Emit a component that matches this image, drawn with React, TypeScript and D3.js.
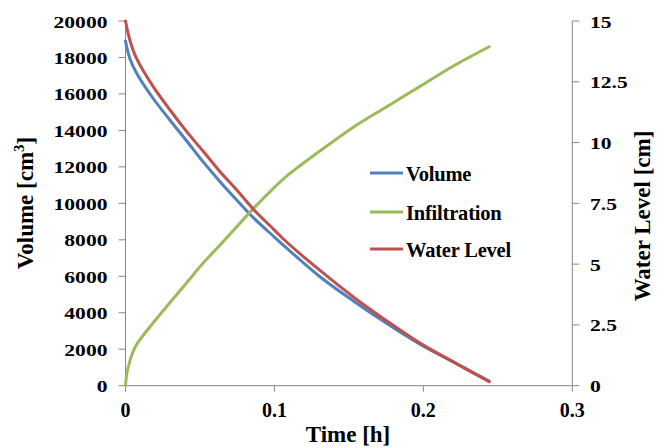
import React from "react";
import * as d3 from "d3";

// Time [h] sample points
const timeH = [0, 0.0029, 0.0074, 0.0186, 0.0299, 0.0411, 0.0523, 0.0635, 0.0747, 0.086, 0.1, 0.108, 0.131, 0.153, 0.176, 0.198, 0.2207, 0.2442];
// Remaining volume in the column [cm3]
const volume = [18900, 17950, 17150, 15750, 14560, 13420, 12260, 11190, 10180, 9200, 8150, 7560, 5950, 4650, 3380, 2260, 1270, 256];
// Water level [cm] (secondary axis)
const waterLevel = [15.0, 14.22, 13.46, 12.3, 11.34, 10.45, 9.63, 8.8, 8.05, 7.25, 6.4, 5.92, 4.72, 3.65, 2.64, 1.74, 0.96, 0.16];
// Cumulative infiltration [cm3]
const infTime = [0, 0.0008, 0.0025, 0.0045, 0.0074, 0.0186, 0.0299, 0.0411, 0.0523, 0.0635, 0.0747, 0.086, 0.1, 0.108, 0.131, 0.153, 0.176, 0.198, 0.2207, 0.2442];
const infiltration = [0, 620, 1230, 1750, 2250, 3450, 4560, 5650, 6740, 7715, 8720, 9725, 10880, 11480, 12900, 14180, 15330, 16430, 17560, 18590];

const leftTicks = [0, 2000, 4000, 6000, 8000, 10000, 12000, 14000, 16000, 18000, 20000];
const rightTicks = [0, 2.5, 5, 7.5, 10, 12.5, 15];
const timeTicks = [0, 0.1, 0.2, 0.3];

const seriesNames = ["Volume", "Infiltration", "Water Level"];
const seriesColors = ["#4F81BD", "#9BBB59", "#C0504D"];

const W = 662;
const H = 448;
const FONT = "'Liberation Serif', 'Times New Roman', serif";
const AXIS = "#868686";

export default function App() {
  const x = d3.scaleLinear().domain([0, 0.3]).range([125.5, 572.3]);
  const yL = d3.scaleLinear().domain([0, 20000]).range([385.7, 21]);
  const yR = d3.scaleLinear().domain([0, 15]).range([385.7, 21]);

  const mk = (ts: number[], vs: number[], ys: d3.ScaleLinear<number, number>) =>
    d3
      .line<number>()
      .x((_, i) => x(ts[i]))
      .y((v) => ys(v))
      .curve(d3.curveCatmullRom.alpha(0.5))(vs) as string;

  const paths = [
    mk(timeH, volume, yL),
    mk(infTime, infiltration, yL),
    mk(timeH, waterLevel, yR),
  ];

  const x0 = x(0);
  const x1 = x(0.3);
  const yTop = yL(20000);
  const yBot = yL(0);

  const legendY = [173, 212, 249];

  return (
    <svg
      width={W}
      height={H}
      style={{ position: "absolute", left: 0, top: 0, background: "#fff" }}
      fontFamily={FONT}
      fontWeight="bold"
    >
      <rect width={W} height={H} fill="#fff" />

      {/* left axis */}
      <line x1={x0} x2={x0} y1={yTop} y2={yBot} stroke={AXIS} strokeWidth={1} />
      {leftTicks.map((t) => (
        <g key={"l" + t}>
          <line x1={x0 - 7} x2={x0} y1={yL(t)} y2={yL(t)} stroke={AXIS} />
          <text
            transform={`translate(107.5,${yL(t) + 6.5}) scale(1.31,1)`}
            textAnchor="end"
            fontSize={16.5}
            fill="#000"
          >
            {t}
          </text>
        </g>
      ))}

      {/* right axis */}
      <line x1={x1} x2={x1} y1={yTop} y2={yBot} stroke={AXIS} strokeWidth={1} />
      {rightTicks.map((t) => (
        <g key={"r" + t}>
          <line x1={x1} x2={x1 + 7} y1={yR(t)} y2={yR(t)} stroke={AXIS} />
          <text
            transform={`translate(590,${yR(t) + 6.5}) scale(1.31,1)`}
            textAnchor="start"
            fontSize={16.5}
            fill="#000"
          >
            {t}
          </text>
        </g>
      ))}

      {/* bottom axis */}
      <line x1={x0} x2={x1} y1={yBot} y2={yBot} stroke={AXIS} strokeWidth={1} />
      {timeTicks.map((t) => (
        <g key={"b" + t}>
          <line x1={x(t)} x2={x(t)} y1={yBot} y2={yBot + 6} stroke={AXIS} />
          <text x={x(t)} y={416.5} textAnchor="middle" fontSize={20} fill="#000">
            {t}
          </text>
        </g>
      ))}

      {/* axis titles */}
      <text x={348} y={441.5} textAnchor="middle" fontSize={23} fill="#000">
        Time [h]
      </text>
      <text
        transform={`translate(33,203) rotate(-90)`}
        textAnchor="middle"
        fontSize={23}
        fill="#000"
      >
        Volume [cm
        <tspan fontSize={15} dy={-9}>
          3
        </tspan>
        <tspan dy={9}>]</tspan>
      </text>
      <text
        transform={`translate(649.5,216) rotate(-90)`}
        textAnchor="middle"
        fontSize={23}
        fill="#000"
      >
        Water Level [cm]
      </text>

      {/* series */}
      {paths.map((d, i) => (
        <path
          key={seriesNames[i]}
          d={d}
          fill="none"
          stroke={seriesColors[i]}
          strokeWidth={3}
          strokeLinejoin="round"
          strokeLinecap="round"
        />
      ))}

      {/* legend */}
      {seriesNames.map((n, i) => (
        <g key={"lg" + n}>
          <line x1={370} x2={403} y1={legendY[i]} y2={legendY[i]} stroke={seriesColors[i]} strokeWidth={3} />
          <text x={406} y={legendY[i] + 7.5} fontSize={20.5} letterSpacing={-0.2} fill="#000">
            {n}
          </text>
        </g>
      ))}
    </svg>
  );
}
